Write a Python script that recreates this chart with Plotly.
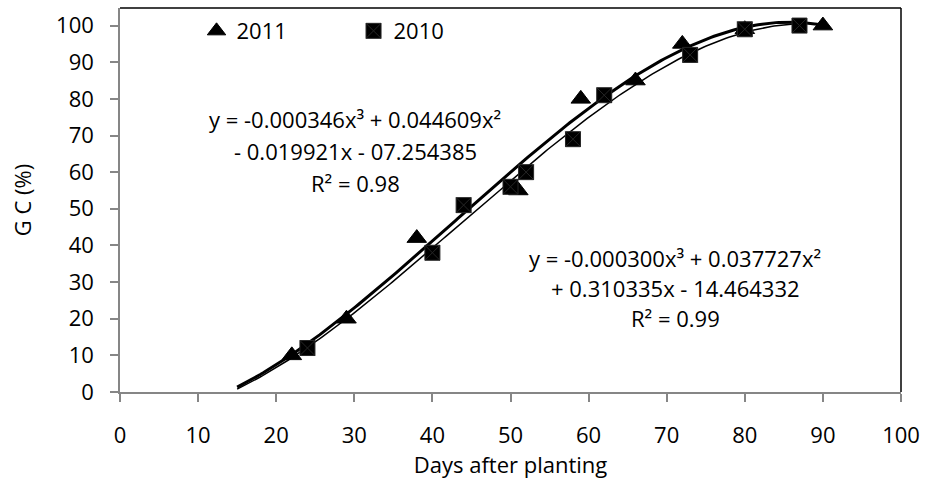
import numpy as np
import plotly.graph_objects as go

# Data
days_2011 = [22, 29, 38, 51, 59, 66, 72, 80, 90]
gc_2011 = [10, 20, 42, 55, 80, 85, 95, 99, 100]
days_2010 = [24, 40, 44, 50, 52, 58, 62, 73, 80, 87]
gc_2010 = [12, 38, 51, 56, 60, 69, 81, 92, 99, 100]

eq_2011 = ["y = -0.000346x³ + 0.044609x²", "- 0.019921x - 07.254385", "R² = 0.98"]
eq_2010 = ["y = -0.000300x³ + 0.037727x²", "+ 0.310335x - 14.464332", "R² = 0.99"]

trend_start = 15  # trendlines forecast backward to day 15

FONT = "Open Sans"
FS = 22

def cubic_trend(x, y):
    coef = np.polyfit(x, y, 3)
    xs = np.linspace(trend_start, max(x), 200)
    return xs, np.polyval(coef, xs)

fig = go.Figure()

tx, ty = cubic_trend(days_2011, gc_2011)
sx, sy = cubic_trend(days_2010, gc_2010)
fig.add_trace(go.Scatter(x=tx, y=ty, mode="lines", line=dict(color="black", width=3),
                         showlegend=False, hoverinfo="skip"))
fig.add_trace(go.Scatter(x=sx, y=sy, mode="lines", line=dict(color="black", width=1.5),
                         showlegend=False, hoverinfo="skip"))

fig.add_trace(go.Scatter(x=days_2011, y=gc_2011, mode="markers", name="2011",
                         marker=dict(symbol="triangle-up", size=17, color="black",
                                     line=dict(color="black", width=1))))
fig.add_trace(go.Scatter(x=days_2010, y=gc_2010, mode="markers", name="2010",
                         marker=dict(symbol="square-x", size=15, color="black",
                                     line=dict(color="#262626", width=1))))

axis_common = dict(
    showgrid=False, zeroline=False, showline=True, linecolor="#868686", linewidth=1.5,
    ticks="outside", ticklen=8, tickcolor="#868686", tickwidth=1.5,
    tickfont=dict(family=FONT, size=FS, color="black"),
)

fig.update_xaxes(range=[0, 100], dtick=10, tick0=0, ticklabelstandoff=15,
                 title=dict(text="Days after planting", font=dict(family=FONT, size=FS, color="black"),
                            standoff=9),
                 **axis_common)
fig.update_yaxes(range=[0, 104.8], tickvals=list(range(0, 101, 10)), ticklabelstandoff=12,
                 title=dict(text="G C (%)", font=dict(family=FONT, size=FS, color="black"),
                            standoff=18),
                 **axis_common)

# top and right borders of plot area
fig.add_shape(type="line", xref="paper", yref="paper", x0=0, x1=1, y0=1, y1=1,
              line=dict(color="black", width=1.5))
fig.add_shape(type="line", xref="paper", yref="paper", x0=1, x1=1, y0=0, y1=1,
              line=dict(color="black", width=1.5))

# equations
for i, t in enumerate(eq_2011):
    fig.add_annotation(x=30.1, y=74.4 - i * 8.7, xref="x", yref="y", text=t, showarrow=False,
                       font=dict(family=FONT, size=FS, color="black"), xanchor="center", yanchor="middle")
for i, t in enumerate(eq_2010):
    fig.add_annotation(x=71.1, y=36.6 - i * 8.2, xref="x", yref="y", text=t, showarrow=False,
                       font=dict(family=FONT, size=FS, color="black"), xanchor="center", yanchor="middle")

fig.update_layout(
    width=928, height=482,
    margin=dict(l=120, r=22, t=8, b=90),
    paper_bgcolor="white", plot_bgcolor="white",
    font=dict(family=FONT, size=FS, color="black"),
    legend=dict(orientation="h", x=0.098, y=0.94, xanchor="left", yanchor="middle",
                bgcolor="rgba(0,0,0,0)", font=dict(family=FONT, size=FS, color="black"),
                entrywidth=112, itemsizing="trace"),
)

fig.write_html("out.html")
